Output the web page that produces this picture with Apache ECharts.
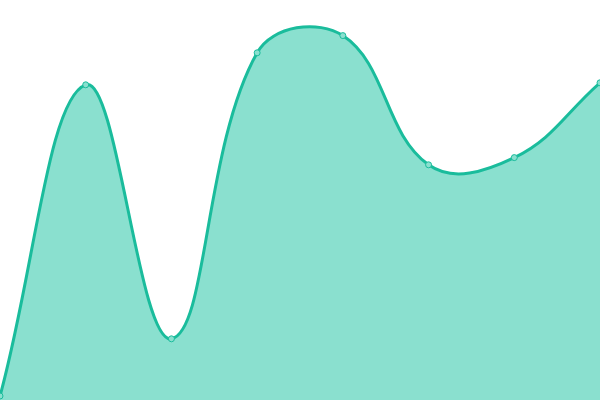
<!DOCTYPE html>
<html><head><meta charset="utf-8">
<script src="https://cdn.jsdelivr.net/npm/echarts@6/dist/echarts.min.js"></script>
<style>html,body{margin:0;padding:0;background:#fff}#c{width:600px;height:400px}</style>
</head><body><div id="c"></div>
<script>
var categories = ['A','B','C','D','E','F','G','H'];
var values = [1, 78.8, 15.3, 86.8, 91.1, 58.8, 60.6, 79.3];

var TENSION = 0.4;
function splinePath(pts, area) {
  var n = pts.length, cps = [];
  for (var i = 0; i < n; i++) {
    var prev = pts[Math.max(0, i - 1)], cur = pts[i], next = pts[Math.min(n - 1, i + 1)];
    var d01 = Math.hypot(cur[0] - prev[0], cur[1] - prev[1]);
    var d12 = Math.hypot(next[0] - cur[0], next[1] - cur[1]);
    var s01 = d01 / (d01 + d12), s12 = d12 / (d01 + d12);
    if (isNaN(s01)) s01 = 0; if (isNaN(s12)) s12 = 0;
    var fa = TENSION * s01, fb = TENSION * s12;
    var cp1 = [cur[0] - fa * (next[0] - prev[0]), cur[1] - fa * (next[1] - prev[1])];
    var cp2 = [cur[0] + fb * (next[0] - prev[0]), cur[1] + fb * (next[1] - prev[1])];
    [cp1, cp2].forEach(function (p) {
      p[0] = Math.min(Math.max(p[0], area.x), area.x + area.width);
      p[1] = Math.min(Math.max(p[1], area.y), area.y + area.height);
    });
    cps.push([cp1, cp2]);
  }
  var d = 'M' + pts[0][0] + ' ' + pts[0][1];
  for (var j = 1; j < n; j++) {
    var a = cps[j - 1][1], b = cps[j][0];
    d += ' C' + a[0] + ' ' + a[1] + ' ' + b[0] + ' ' + b[1] + ' ' + pts[j][0] + ' ' + pts[j][1];
  }
  return d;
}

var chart = echarts.init(document.getElementById('c'));
chart.setOption({
  animation: false,
  grid: {left: 0, right: 0, top: 0, bottom: 0},
  xAxis: {type: 'category', data: categories, boundaryGap: false, show: false},
  yAxis: {type: 'value', min: 0, max: 100, show: false},
  series: [{
    type: 'custom',
    clip: true,
    data: values.map(function (v, i) { return [i, v]; }),
    encode: {x: 0, y: 1},
    renderItem: function (params, api) {
      var i = params.dataIndex;
      var children = [];
      if (i === 0) {
        var pts = values.map(function (v, k) { return api.coord([k, v]); });
        var cs = params.coordSys;
        var area = {x: cs.x, y: cs.y, width: cs.width, height: cs.height};
        var line = splinePath(pts, area);
        var base = api.coord([0, 0])[1];
        var fill = line + ' L' + pts[pts.length - 1][0] + ' ' + base + ' L' + pts[0][0] + ' ' + base + ' Z';
        children.push({type: 'path', shape: {pathData: fill}, style: {fill: '#8ae0cf', stroke: null}});
        children.push({type: 'path', shape: {pathData: line}, style: {fill: null, stroke: '#1abc9c', lineWidth: 3}});
      }
      var p = api.coord([i, api.value(1)]);
      children.push({type: 'circle', z2: 10, shape: {cx: p[0], cy: p[1], r: 3},
        style: {fill: '#8ae0cf', stroke: '#1abc9c', lineWidth: 1}});
      return {type: 'group', children: children};
    }
  }]
});
</script></body></html>
